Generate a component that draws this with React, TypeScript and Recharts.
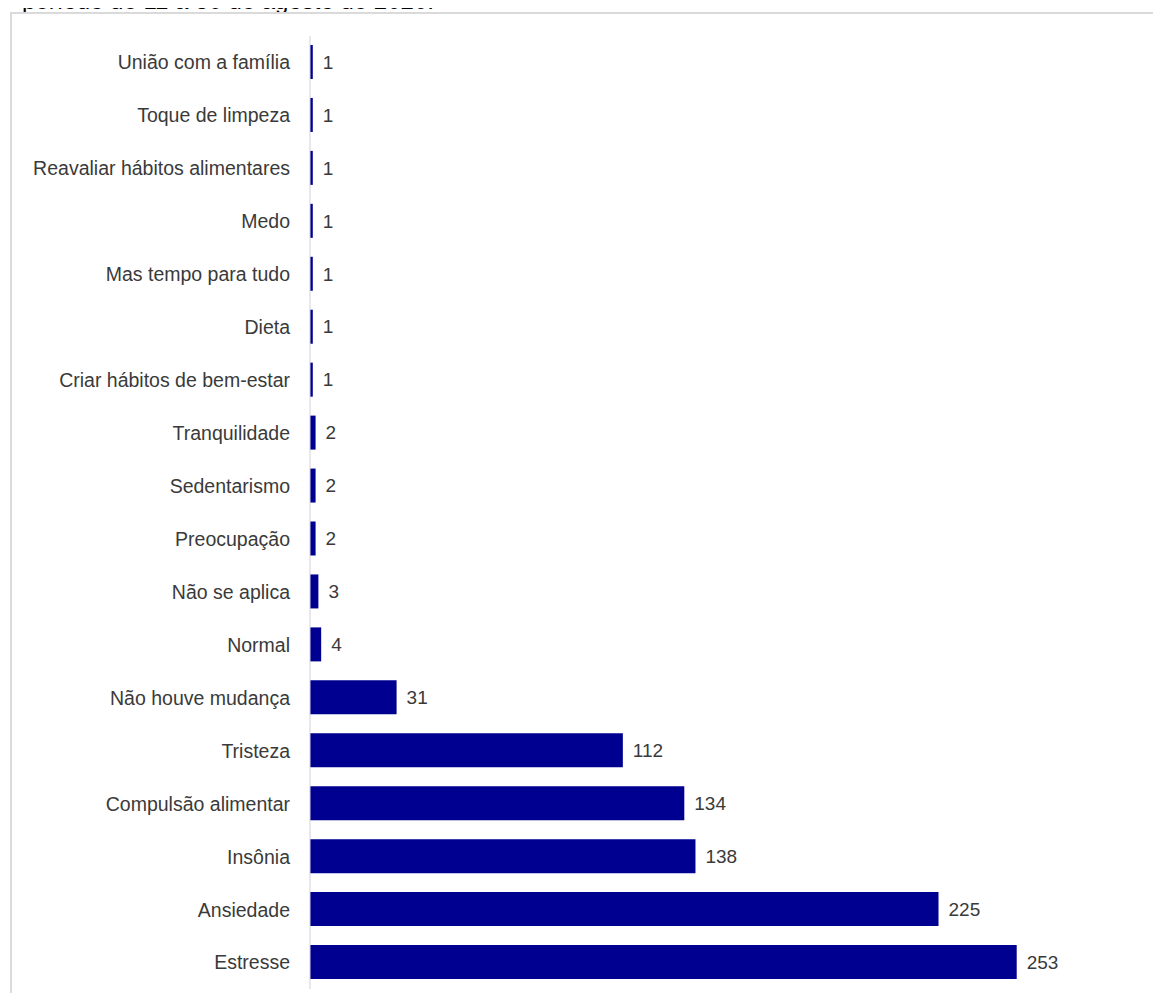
import { BarChart, Bar, XAxis, YAxis, LabelList } from "recharts";

const categorias = [
  "União com a família",
  "Toque de limpeza",
  "Reavaliar hábitos alimentares",
  "Medo",
  "Mas tempo para tudo",
  "Dieta",
  "Criar hábitos de bem-estar",
  "Tranquilidade",
  "Sedentarismo",
  "Preocupação",
  "Não se aplica",
  "Normal",
  "Não houve mudança",
  "Tristeza",
  "Compulsão alimentar",
  "Insônia",
  "Ansiedade",
  "Estresse",
];

const respostas = [1, 1, 1, 1, 1, 1, 1, 2, 2, 2, 3, 4, 31, 112, 134, 138, 225, 253];

const titulo = "período de 11 a 30 de agosto de 2020.";

const data = categorias.map((nome, i) => ({ nome, total: respostas[i] }));

const fonte = '"Liberation Sans", Arial, sans-serif';

export default function App() {
  return (
    <div
      style={{
        position: "relative",
        margin: -8,
        width: 1161,
        height: 1001,
        overflow: "hidden",
        background: "#fff",
        fontFamily: fonte,
      }}
    >
      {/* título cortado no topo, como no original */}
      <div
        style={{
          position: "absolute",
          left: 22,
          top: -11,
          fontSize: 24,
          lineHeight: "24px",
          color: "#000",
          whiteSpace: "nowrap",
        }}
      >
        {titulo}
      </div>
      <div
        style={{
          position: "absolute",
          left: 10,
          top: 12,
          width: 1151,
          height: 989,
          borderTop: "2px solid #dadada",
          borderLeft: "2px solid #dadada",
          boxSizing: "border-box",
          background: "#fff",
        }}
      />
      <div style={{ position: "absolute", left: 10, top: 12 }}>
        <BarChart
          width={1151}
          height={989}
          layout="vertical"
          data={data}
          margin={{ top: 24, right: 13, bottom: 12, left: 0 }}
        >
          <XAxis type="number" domain={[0, 300]} hide />
          <YAxis
            type="category"
            dataKey="nome"
            width={300}
            interval={0}
            tickLine={false}
            tickSize={0}
            tickMargin={20}
            axisLine={{ stroke: "#cfcfdc", strokeWidth: 1 }}
            tick={{ fill: "#3a3a3a", fontSize: 19.5, fontFamily: fonte }}
          />
          <Bar dataKey="total" fill="#000090" barSize={34} isAnimationActive={false}>
            <LabelList
              dataKey="total"
              position="right"
              offset={10}
              fill="#3a3a3a"
              fontSize={19}
              fontFamily={fonte}
            />
          </Bar>
        </BarChart>
      </div>
    </div>
  );
}
